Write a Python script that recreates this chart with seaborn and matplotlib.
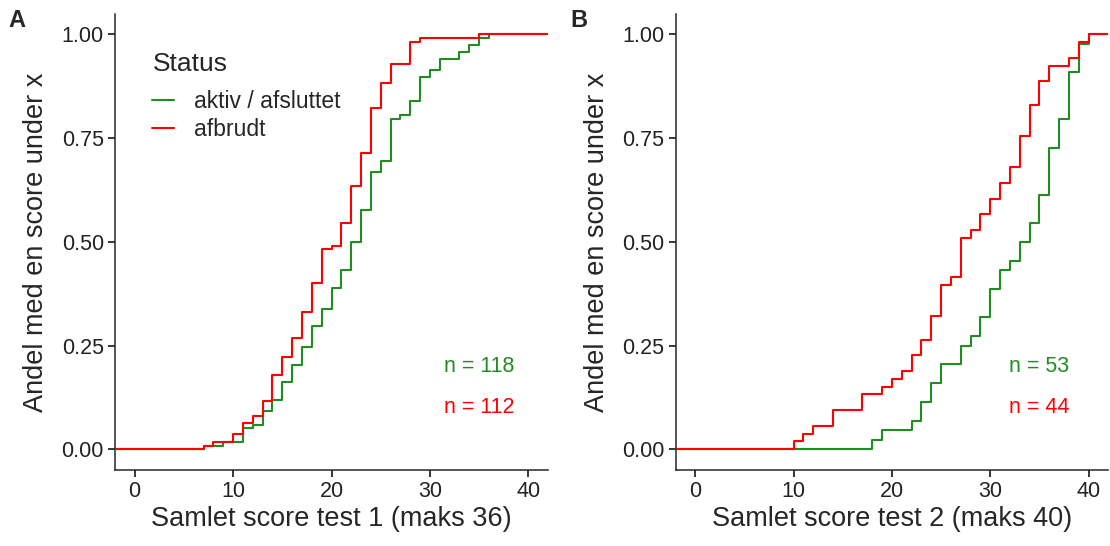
import numpy as np
import pandas as pd
import matplotlib
matplotlib.use("Agg")
import matplotlib.pyplot as plt
import seaborn as sns

# ---------------- data ----------------
status_levels = ["aktiv / afsluttet", "afbrudt"]
status_colors = ["#228B22", "#FF0000"]

# Panel A (test 1): score values and number of persons at each score
a_aktiv_scores = [7, 9, 11, 12, 13, 14, 15, 16, 17, 18, 19, 20, 21, 22, 23, 24, 25, 26, 27, 28, 29, 30, 31, 33, 34, 35, 36]
a_aktiv_counts = [1, 1, 4, 1, 4, 3, 5, 5, 5, 6, 5, 6, 5, 8, 9, 11, 3, 12, 1, 4, 7, 2, 3, 2, 2, 2, 1]
a_afbrudt_scores = [7, 8, 10, 11, 12, 13, 14, 15, 16, 17, 18, 19, 20, 21, 22, 23, 24, 25, 26, 28, 29, 35]
a_afbrudt_counts = [1, 1, 2, 3, 2, 4, 7, 5, 5, 7, 8, 9, 1, 6, 10, 9, 12, 7, 5, 6, 1, 1]

# Panel B (test 2)
b_aktiv_scores = [18, 19, 22, 23, 24, 25, 27, 28, 29, 30, 31, 32, 33, 34, 35, 36, 37, 38, 39, 40]
b_aktiv_counts = [1, 1, 1, 2, 2, 2, 2, 1, 2, 3, 2, 1, 2, 2, 3, 5, 3, 5, 3, 1]
b_afbrudt_scores = [10, 11, 12, 14, 17, 19, 20, 21, 22, 23, 24, 25, 26, 27, 28, 29, 30, 31, 32, 33, 34, 35, 36, 38, 39, 40]
b_afbrudt_counts = [1, 1, 1, 2, 2, 1, 1, 1, 2, 2, 3, 4, 1, 5, 1, 2, 2, 2, 2, 4, 4, 3, 2, 1, 2, 1]

n_labels_a = ["n = 118", "n = 112"]
n_labels_b = ["n = 53", "n = 44"]

panel_letters = ["A", "B"]
x_titles = ["Samlet score test 1 (maks 36)", "Samlet score test 2 (maks 40)"]
y_title = "Andel med en score under x"
legend_title = "Status"
x_ticks = [0, 10, 20, 30, 40]
y_ticks = [0.0, 0.25, 0.50, 0.75, 1.00]


def make_df(sg, cg, sr, cr):
    return pd.DataFrame({
        "score": list(sg) + list(sr),
        "weight": list(cg) + list(cr),
        "Status": [status_levels[0]] * len(sg) + [status_levels[1]] * len(sr),
    })


df_a = make_df(a_aktiv_scores, a_aktiv_counts, a_afbrudt_scores, a_afbrudt_counts)
df_b = make_df(b_aktiv_scores, b_aktiv_counts, b_afbrudt_scores, b_afbrudt_counts)

# ---------------- style ----------------
sns.set_theme(style="ticks")
plt.rcParams["font.family"] = ["Liberation Sans", "DejaVu Sans"]
plt.rcParams["axes.linewidth"] = 1.1
plt.rcParams["xtick.major.width"] = 1.1
plt.rcParams["ytick.major.width"] = 1.1
plt.rcParams["xtick.major.size"] = 5
plt.rcParams["ytick.major.size"] = 5

fig = plt.figure(figsize=(11.1, 5.46), dpi=100)
axA = fig.add_axes([0.1036, 0.1392, 0.3901, 0.8358])
axB = fig.add_axes([0.6087, 0.1392, 0.3898, 0.8358])

XLIM = (-2.0, 42.0)
YLIM = (-0.05, 1.05)

for ax, df, nlab, xt in [(axA, df_a, n_labels_a, x_titles[0]),
                         (axB, df_b, n_labels_b, x_titles[1])]:
    sns.ecdfplot(data=df, x="score", weights="weight", hue="Status",
                 hue_order=status_levels, palette=status_colors,
                 linewidth=1.5, ax=ax, legend=(ax is axA))
    ax.set_xlim(*XLIM)
    ax.set_ylim(*YLIM)
    # extend step lines to the panel edges (like ggplot's padded ecdf)
    for line in ax.lines:
        x, y = line.get_data()
        x = np.asarray(x, dtype=float)
        y = np.asarray(y, dtype=float)
        fin = np.isfinite(x)
        x = np.r_[XLIM[0], x[fin], XLIM[1]]
        y = np.r_[0.0, y[fin], 1.0]
        line.set_data(x, y)
        c = matplotlib.colors.to_hex(line.get_color())
        line.set_zorder(3 if c.lower() == "#ff0000" else 2)
    ax.set_xticks(x_ticks)
    ax.set_yticks(y_ticks)
    ax.set_yticklabels([f"{v:.2f}" for v in y_ticks])
    ax.tick_params(labelsize=15.5, colors="black", labelcolor="#222222", pad=3)
    ax.set_xlabel(xt, fontsize=19.5, labelpad=3)
    ax.set_ylabel(y_title, fontsize=19.5, labelpad=9)
    sns.despine(ax=ax)
    ax.text(35, 0.2, nlab[0], color=status_colors[0], ha="center", va="center", fontsize=15.5)
    ax.text(35, 0.1, nlab[1], color=status_colors[1], ha="center", va="center", fontsize=15.5)

fig.text(0.008, 0.962, panel_letters[0], fontsize=17, fontweight="bold", va="center")
fig.text(0.514, 0.962, panel_letters[1], fontsize=17, fontweight="bold", va="center")

sns.move_legend(axA, "upper left", bbox_to_anchor=(0.127, 0.925),
                bbox_transform=fig.transFigure, frameon=False,
                title=legend_title, fontsize=16.5, title_fontsize=19,
                handlelength=0.95, handletextpad=0.85, labelspacing=0.2,
                alignment="left", borderpad=0)
leg = axA.get_legend()
leg._legend_box.sep = 10
for h in leg.legend_handles:
    h.set_linewidth(1.5)

fig.savefig("out.png", dpi=100)
